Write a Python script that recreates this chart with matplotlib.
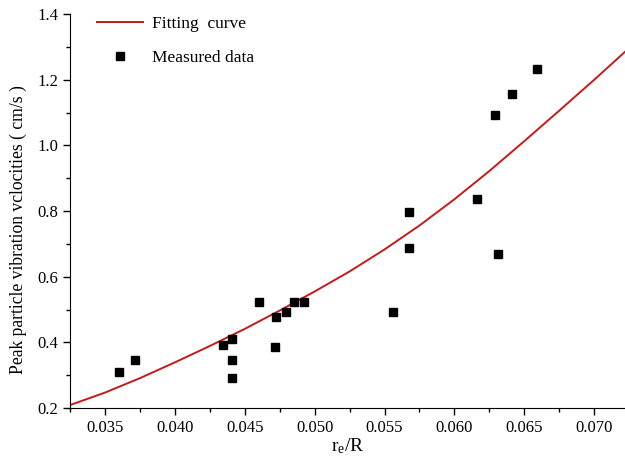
import matplotlib
matplotlib.use("Agg")

import matplotlib.pyplot as plt
from matplotlib.ticker import MultipleLocator, FormatStrFormatter

measured_x = [0.0360, 0.03714, 0.04345, 0.04412, 0.04409, 0.04409, 0.0460, 0.04726,
              0.04716, 0.04795, 0.04852, 0.04926, 0.05559, 0.05676, 0.05676, 0.06164,
              0.06291, 0.06312, 0.06414, 0.06591]
measured_y = [0.311, 0.347, 0.392, 0.410, 0.347, 0.292, 0.523, 0.478,
              0.386, 0.493, 0.522, 0.522, 0.493, 0.797, 0.688, 0.837,
              1.092, 0.668, 1.157, 1.232]

# fitting curve, traced points
fit_x = [0.0325, 0.035, 0.0375, 0.040, 0.0425, 0.045, 0.0475, 0.050, 0.0525,
         0.055, 0.0575, 0.060, 0.0625, 0.065, 0.0675, 0.070, 0.0722]
fit_y = [0.209, 0.247, 0.291, 0.339, 0.389, 0.441, 0.497, 0.555, 0.616,
         0.683, 0.756, 0.836, 0.922, 1.013, 1.106, 1.200, 1.285]

plt.rcParams["font.family"] = ["Liberation Serif", "DejaVu Serif"]
plt.rcParams["mathtext.default"] = "regular"

fig = plt.figure(figsize=(6.25, 4.69), dpi=100)
ax = fig.add_axes([0.112, 0.130, 0.888, 0.840])

ax.plot(fit_x, fit_y, color="#c41a1a", linewidth=1.4, label="Fitting  curve")
ax.plot(measured_x, measured_y, linestyle="none", marker="s", markersize=5.5,
        color="black", label="Measured data")

ax.set_xlim(0.0325, 0.0722)
ax.set_ylim(0.2, 1.4)
ax.xaxis.set_major_locator(MultipleLocator(0.005))
ax.xaxis.set_minor_locator(MultipleLocator(0.0025))
ax.yaxis.set_major_locator(MultipleLocator(0.2))
ax.yaxis.set_minor_locator(MultipleLocator(0.1))
ax.xaxis.set_major_formatter(FormatStrFormatter("%.3f"))
ax.yaxis.set_major_formatter(FormatStrFormatter("%.1f"))

ax.spines["top"].set_visible(False)
ax.spines["right"].set_visible(False)
ax.tick_params(which="both", direction="out", labelsize=12, width=1)
ax.tick_params(which="major", length=5)
ax.tick_params(which="minor", length=3)

ax.set_xlabel(r"r$_e$/R", fontsize=14, labelpad=0.5)
ax.set_ylabel("Peak particle vibration vclocities ( cm/s )", fontsize=12.7)
ax.yaxis.set_label_coords(-0.078, 0.452)

ax.legend(loc="upper left", frameon=False, fontsize=12.5, handlelength=2.65,
          handletextpad=0.5, labelspacing=1.0, borderpad=0, borderaxespad=0,
          bbox_to_anchor=(0.049, 0.995))

fig.savefig("out.png", dpi=100)
plt.close(fig)
